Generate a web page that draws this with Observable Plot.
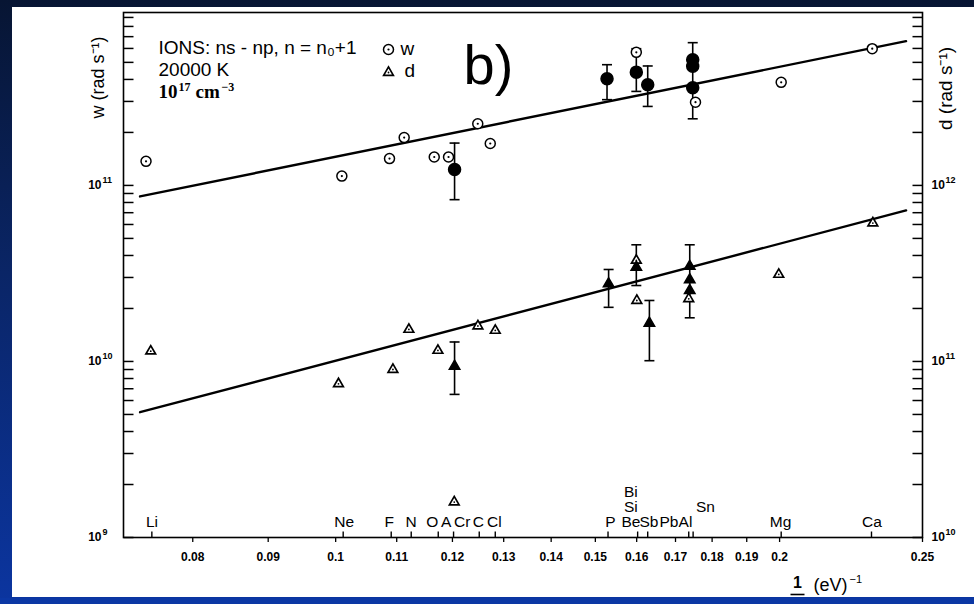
<!DOCTYPE html>
<html><head><meta charset="utf-8">
<script src="https://cdn.jsdelivr.net/npm/d3@7"></script>
<script src="https://cdn.jsdelivr.net/npm/@observablehq/plot@0.6"></script>
<style>
html,body{margin:0;padding:0;}
body{width:974px;height:604px;overflow:hidden;position:relative;background:linear-gradient(180deg,#071533 0%,#0a2566 45%,#0b35a0 100%);font-family:"Liberation Sans",Arial,sans-serif;}
#paper{position:absolute;left:12px;top:7px;width:962px;height:590px;background:#fff;}
#chart{position:absolute;left:0;top:0;}
#strip{position:absolute;left:0;top:598px;width:974px;height:6px;background:#0b37a4;}
</style></head><body>
<div id="paper"></div><div id="chart"></div><div id="strip"></div>
<script>
// ---------- data ----------
const xDomain = [0.0718, 0.25];
const yDomain = [1e9, 9.6e11];
const xTicks = [0.08,0.09,0.1,0.11,0.12,0.13,0.14,0.15,0.16,0.17,0.18,0.19,0.2,0.25];
const wTicks = [1e9,2e9,3e9,4e9,5e9,6e9,7e9,8e9,9e9,1e10,2e10,3e10,4e10,5e10,6e10,7e10,8e10,9e10,1e11,2e11,3e11,4e11,5e11,6e11,7e11,8e11,9e11];
const dTicks = [1e10,2e10,3e10,4e10,5e10,6e10,7e10,8e10,9e10,1e11,2e11,3e11,4e11,5e11,6e11,7e11,8e11,9e11,1e12,2e12,3e12,4e12,5e12,6e12,7e12,8e12,9e12];
const wMajor = [1e9,1e10,1e11];
const wMajorExp = ["9","10","11"];
const dMajor = [1e10,1e11,1e12];
const dMajorExp = ["10","11","12"];

// fitted lines (w on left axis, d on right axis)
const fitX = [0.07368, 0.24367];
const wFit = [8.66e10, 6.6e11];
const dFitVal = [5.15e10, 7.21e11];

// w: open circles (theory)
const wOpenX = [0.07437,0.10097,0.10877,0.11129,0.11664,0.11927,0.12484,0.12730,0.15991,0.17539,0.20050,0.23113];
const wOpenVal = [1.37e11,1.13e11,1.42e11,1.87e11,1.45e11,1.45e11,2.24e11,1.73e11,5.70e11,2.97e11,3.85e11,5.98e11];
// w: filled circles (experiment)
const wFillX = [0.12040,0.15276,0.15991,0.16278,0.17463,0.17463,0.17463];
const wFillVal = [1.23e11,4.04e11,4.40e11,3.73e11,5.18e11,4.75e11,3.59e11];
// w: error bars
const wErrX = [0.12040,0.15276,0.15991,0.16278,0.17463];
const wErrLo = [8.3e10,3.07e11,3.42e11,2.81e11,2.39e11];
const wErrHi = [1.74e11,4.85e11,5.98e11,4.77e11,6.47e11];

// d: open triangles (theory)
const dOpenX = [0.07492,0.10044,0.10935,0.11211,0.11731,0.12487,0.12830,0.12034,0.15991,0.16004,0.17355,0.19974,0.23135];
const dOpenVal = [1.144e11,7.46e10,9.0e10,1.52e11,1.155e11,1.59e11,1.50e11,1.59e10,3.75e11,2.22e11,2.27e11,3.12e11,6.11e11];
// d: filled triangles (experiment)
const dFillX = [0.12040,0.15314,0.15991,0.16321,0.17382,0.17382,0.17382];
const dFillVal = [9.4e10,2.76e11,3.43e11,1.65e11,3.47e11,2.91e11,2.53e11];
// d: error bars
const dErrX = [0.12040,0.15314,0.15991,0.16321,0.17382];
const dErrLo = [6.5e10,2.03e11,2.70e11,1.01e11,1.77e11];
const dErrHi = [1.29e11,3.33e11,4.60e11,2.22e11,4.60e11];

// element markers on the x axis
const elemTickX = [0.07505,0.10118,0.10906,0.11252,0.11737,0.12021,0.12513,0.12830,0.15300,0.16024,0.16278,0.17355,0.17474,0.20050,0.23086];
const row0Names = ["Li","Ne","F","N","O","A","Cr","C","Cl","P","Be","Sb","Pb","Al","Mg","Ca"];
const row0X = [0.07507,0.10134,0.10872,0.11252,0.11627,0.11884,0.12185,0.12493,0.12810,0.15355,0.15856,0.16309,0.16826,0.17266,0.20028,0.23105];
const row1Names = ["Si","Sn"];
const row1X = [0.15856,0.17813];
const row2Names = ["Bi"];
const row2X = [0.15856];

// texts
const panelTag = ["b)"];
const legendLine1 = ["IONS: ns - np, n = n\u2080+1"];
const legendLine2 = ["20000 K"];
const legendSeries = ["w","d"];
const wTitle = ["w (rad s\u207B\u00B9)"];
const dTitle = ["d (rad s\u207B\u00B9)"];

// ---------- symbols ----------
const cap = {draw(c){c.moveTo(-5,0);c.lineTo(5,0);}};
const fracBar = {draw(c){c.moveTo(-7,0);c.lineTo(7,0);}};
const tickR = {draw(c){c.moveTo(0,0);c.lineTo(10,0);}};
const tickL = {draw(c){c.moveTo(0,0);c.lineTo(-10,0);}};
const tickU = {draw(c){c.moveTo(0,0);c.lineTo(0,-6);}};

const TL = (arr, o) => Plot.text(arr, {frameAnchor: "top-left", fill: "black", textAnchor: "start", lineAnchor: "bottom", ...o});
const BL = (arr, o) => Plot.text(arr, {frameAnchor: "bottom-left", fill: "black", textAnchor: "middle", lineAnchor: "middle", ...o});
const dy10 = d => d / 10;

const chart = Plot.plot({
  width: 974, height: 604,
  marginLeft: 123, marginRight: 52, marginTop: 12, marginBottom: 67,
  x: {type: "log", domain: xDomain},
  y: {type: "log", domain: yDomain, axis: null},
  style: {background: "transparent", overflow: "visible", fontFamily: "'Liberation Sans', Arial, sans-serif", color: "black"},
  marks: [
    Plot.frame({stroke: "black", strokeWidth: 1.6}),
    Plot.axisX({ticks: xTicks, tickFormat: d => String(d), tickSize: 5, tickPadding: 10, label: null, fontSize: 12, fontWeight: "bold", strokeWidth: 1.3}),
    // inward y ticks
    Plot.dot(wTicks, {y: d => d, frameAnchor: "left", symbol: tickR, fill: "none", stroke: "black", strokeWidth: 1.5}),
    Plot.dot(dTicks, {y: dy10, frameAnchor: "right", symbol: tickL, fill: "none", stroke: "black", strokeWidth: 1.5}),
    // y tick labels
    Plot.text(wMajor, {y: d => d, frameAnchor: "left", dx: -22, text: () => "10", textAnchor: "end", lineAnchor: "middle", fontSize: 12, fontWeight: "bold"}),
    Plot.text(wMajor, {y: d => d, frameAnchor: "left", dx: -21, dy: -5, text: wMajorExp, textAnchor: "start", lineAnchor: "middle", fontSize: 9, fontWeight: "bold"}),
    Plot.text(dMajor, {y: dy10, frameAnchor: "right", dx: 9, text: () => "10", textAnchor: "start", lineAnchor: "middle", fontSize: 12, fontWeight: "bold"}),
    Plot.text(dMajor, {y: dy10, frameAnchor: "right", dx: 23, dy: -5, text: dMajorExp, textAnchor: "start", lineAnchor: "middle", fontSize: 9, fontWeight: "bold"}),
    // element ticks and labels
    Plot.dot(elemTickX, {x: d => d, frameAnchor: "bottom", symbol: tickU, fill: "none", stroke: "black", strokeWidth: 1.4}),
    Plot.text(row0Names, {x: row0X, frameAnchor: "bottom", dy: -11, textAnchor: "middle", lineAnchor: "bottom", fontSize: 15.5}),
    Plot.text(row1Names, {x: row1X, frameAnchor: "bottom", dy: -26, textAnchor: "middle", lineAnchor: "bottom", fontSize: 15.5}),
    Plot.text(row2Names, {x: row2X, frameAnchor: "bottom", dy: -41, textAnchor: "middle", lineAnchor: "bottom", fontSize: 15.5}),
    // fitted lines
    Plot.line(wFit, {x: fitX, y: wFit, stroke: "black", strokeWidth: 2.4}),
    Plot.line(dFitVal, {x: fitX, y: dy10, stroke: "black", strokeWidth: 2.4}),
    // error bars
    Plot.ruleX(wErrX, {x: wErrX, y1: wErrLo, y2: wErrHi, stroke: "black", strokeWidth: 1.6}),
    Plot.dot(wErrLo, {x: wErrX, y: wErrLo, symbol: cap, fill: "none", stroke: "black", strokeWidth: 1.6}),
    Plot.dot(wErrHi, {x: wErrX, y: wErrHi, symbol: cap, fill: "none", stroke: "black", strokeWidth: 1.6}),
    Plot.ruleX(dErrX, {x: dErrX, y1: dErrLo.map(dy10), y2: dErrHi.map(dy10), stroke: "black", strokeWidth: 1.6}),
    Plot.dot(dErrLo, {x: dErrX, y: dy10, symbol: cap, fill: "none", stroke: "black", strokeWidth: 1.6}),
    Plot.dot(dErrHi, {x: dErrX, y: dy10, symbol: cap, fill: "none", stroke: "black", strokeWidth: 1.6}),
    // open markers
    Plot.dot(wOpenVal, {x: wOpenX, y: wOpenVal, r: 5, fill: "white", stroke: "black", strokeWidth: 1.5}),
    Plot.dot(wOpenVal, {x: wOpenX, y: wOpenVal, r: 1.1, fill: "black"}),
    Plot.dot(dOpenVal, {x: dOpenX, y: dy10, symbol: "triangle", r: 3.6, fill: "white", stroke: "black", strokeWidth: 1.7}),
    Plot.dot(dOpenVal, {x: dOpenX, y: dy10, r: 0.9, fill: "black"}),
    // filled markers
    Plot.dot(wFillVal, {x: wFillX, y: wFillVal, r: 6, fill: "black", stroke: "black"}),
    Plot.dot(dFillVal, {x: dFillX, y: dy10, symbol: "triangle", r: 3.9, fill: "black", stroke: "black"}),
    // panel tag and legend
    TL(panelTag, {dx: 340, dy: 71, fontSize: 56}),
    TL(legendLine1, {dx: 35, dy: 41, fontSize: 19}),
    TL(legendLine2, {dx: 35, dy: 63, fontSize: 19}),
    TL(["10"], {dx: 35, dy: 85, fontSize: 19, fontWeight: "bold", fontFamily: "'Liberation Serif', serif"}),
    TL(["17"], {dx: 55, dy: 78, fontSize: 12, fontWeight: "bold", fontFamily: "'Liberation Serif', serif"}),
    TL(["cm"], {dx: 72, dy: 85, fontSize: 19, fontWeight: "bold", fontFamily: "'Liberation Serif', serif"}),
    TL(["\u22123"], {dx: 98, dy: 78, fontSize: 12, fontWeight: "bold", fontFamily: "'Liberation Serif', serif"}),
    Plot.dot([legendSeries[0]], {frameAnchor: "top-left", dx: 265, dy: 37, r: 5, fill: "white", stroke: "black", strokeWidth: 1.5}),
    Plot.dot([legendSeries[0]], {frameAnchor: "top-left", dx: 265, dy: 37, r: 1.1, fill: "black"}),
    Plot.dot([legendSeries[1]], {frameAnchor: "top-left", dx: 265, dy: 60, symbol: "triangle", r: 3.6, fill: "white", stroke: "black", strokeWidth: 1.7}),
    Plot.dot([legendSeries[1]], {frameAnchor: "top-left", dx: 265, dy: 60, r: 0.9, fill: "black"}),
    TL([legendSeries[0]], {dx: 277, dy: 42, fontSize: 19}),
    TL([legendSeries[1]], {dx: 281, dy: 64, fontSize: 19}),
    // axis titles
    TL(wTitle, {dx: -25, dy: 65, rotate: -90, textAnchor: "middle", lineAnchor: "middle", fontSize: 18}),
    Plot.text(dTitle, {frameAnchor: "top-right", dx: 23, dy: 76, rotate: -90, textAnchor: "middle", lineAnchor: "middle", fontSize: 19, fill: "black"}),
    BL(["1"], {dx: 674, dy: 45, fontSize: 16, fontWeight: "bold"}),
    Plot.dot(["1"], {frameAnchor: "bottom-left", dx: 674, dy: 57, symbol: fracBar, fill: "none", stroke: "black", strokeWidth: 1.6}),
    BL(["I\u1D62"], {dx: 674, dy: 66, fontSize: 12, fontWeight: "bold"}),
    BL(["(eV)"], {dx: 690, dy: 48, textAnchor: "start", fontSize: 18}),
    BL(["\u22121"], {dx: 726, dy: 42, textAnchor: "start", fontSize: 11})
  ]
});
document.getElementById("chart").appendChild(chart);
</script></body></html>
